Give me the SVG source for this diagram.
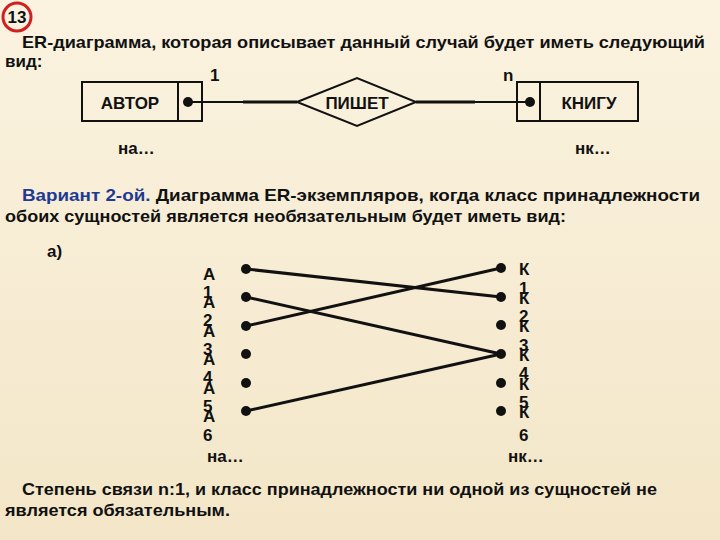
<svg xmlns="http://www.w3.org/2000/svg" width="720" height="540" viewBox="0 0 720 540">
<defs>
<linearGradient id="bg" x1="0" y1="0" x2="0" y2="1"><stop offset="0" stop-color="#fbf3e0"/><stop offset="1" stop-color="#f3e6c8"/></linearGradient>
<style>
text{font-family:"Liberation Sans",Arial,sans-serif;font-size:17px;fill:#111;font-weight:bold}
.s{stroke:#111;fill:none;stroke-width:2}
.c{stroke:#111;stroke-width:3;fill:none}
.d{fill:#111}
</style>
</defs>
<rect width="720" height="540" fill="url(#bg)"/>
<circle cx="17" cy="17" r="14" fill="none" stroke="#d02020" stroke-width="3"/>
<text x="17" y="23" text-anchor="middle" font-size="18">13</text>
<text x="22" y="48" textLength="683" lengthAdjust="spacingAndGlyphs">ER-диаграмма, которая описывает данный случай будет иметь следующий</text>
<text x="5" y="67">вид:</text>
<g id="avtor"><rect x="82" y="82" width="120" height="39" class="s"/><line x1="178" y1="82" x2="178" y2="121" class="s"/><circle cx="188" cy="102" r="5" class="d"/><text x="130" y="109" text-anchor="middle">АВТОР</text></g>
<g id="pishet"><polygon points="297,102 357,78 416,102 357,126" class="s"/><text x="357" y="109" text-anchor="middle">ПИШЕТ</text></g>
<g id="knigu"><rect x="517" y="82" width="121" height="39" class="s"/><line x1="540" y1="82" x2="540" y2="121" class="s"/><circle cx="530" cy="102" r="5" class="d"/><text x="589" y="109" text-anchor="middle">КНИГУ</text></g>
<g id="er-connectors"><line x1="188" y1="102" x2="297" y2="102" class="s"/><line x1="243" y1="102" x2="297" y2="102" class="c"/><line x1="416" y1="102" x2="530" y2="102" class="s"/><line x1="416" y1="102" x2="475" y2="102" class="c"/></g>
<text x="210" y="81">1</text><text x="503" y="81">n</text>
<text x="118" y="154">на…</text><text x="575" y="154">нк…</text>
<text x="22" y="201" textLength="678" lengthAdjust="spacingAndGlyphs"><tspan fill="#1f3a93">Вариант 2-ой.</tspan> Диаграмма ER-экземпляров, когда класс принадлежности</text>
<text x="5" y="222" textLength="561" lengthAdjust="spacingAndGlyphs">обоих сущностей является необязательным будет иметь вид:</text>
<text x="47" y="257" fill="#c02020">а)</text>
<g id="left">
<text x="203" y="280">А</text><text x="203" y="298">1</text>
<text x="203" y="308">А</text><text x="203" y="326">2</text>
<text x="203" y="337">А</text><text x="203" y="355">3</text>
<text x="203" y="365">А</text><text x="203" y="383">4</text>
<text x="203" y="394">А</text><text x="203" y="412">5</text>
<text x="203" y="422">А</text><text x="203" y="441">6</text>
</g>
<g id="right">
<text x="519" y="275">К</text><text x="519" y="294">1</text>
<text x="519" y="304">К</text><text x="519" y="322">2</text>
<text x="519" y="332">К</text><text x="519" y="351">3</text>
<text x="519" y="361">К</text><text x="519" y="379">4</text>
<text x="519" y="390">К</text><text x="519" y="408">5</text>
<text x="519" y="418">К</text><text x="519" y="441">6</text>
</g>
<g id="dots" class="d">
<circle cx="246" cy="269" r="5"/><circle cx="246" cy="297" r="5"/><circle cx="246" cy="326" r="5"/><circle cx="246" cy="354" r="5"/><circle cx="246" cy="383" r="5"/><circle cx="246" cy="411" r="5"/>
<circle cx="501" cy="268" r="5"/><circle cx="501" cy="297" r="5"/><circle cx="501" cy="325" r="5"/><circle cx="501" cy="354" r="5"/><circle cx="501" cy="383" r="5"/><circle cx="501" cy="411" r="5"/>
</g>
<g id="connectors" class="c">
<line x1="246" y1="269" x2="501" y2="297"/>
<line x1="246" y1="297" x2="501" y2="354"/>
<line x1="246" y1="326" x2="501" y2="268"/>
<line x1="246" y1="411" x2="501" y2="354"/>
</g>
<text x="207" y="462">на…</text><text x="508" y="462">нк…</text>
<text x="22" y="495" textLength="635" lengthAdjust="spacingAndGlyphs">Степень связи n:1, и класс принадлежности ни одной из сущностей не</text>
<text x="5" y="516" textLength="225" lengthAdjust="spacingAndGlyphs">является обязательным.</text>
</svg>
